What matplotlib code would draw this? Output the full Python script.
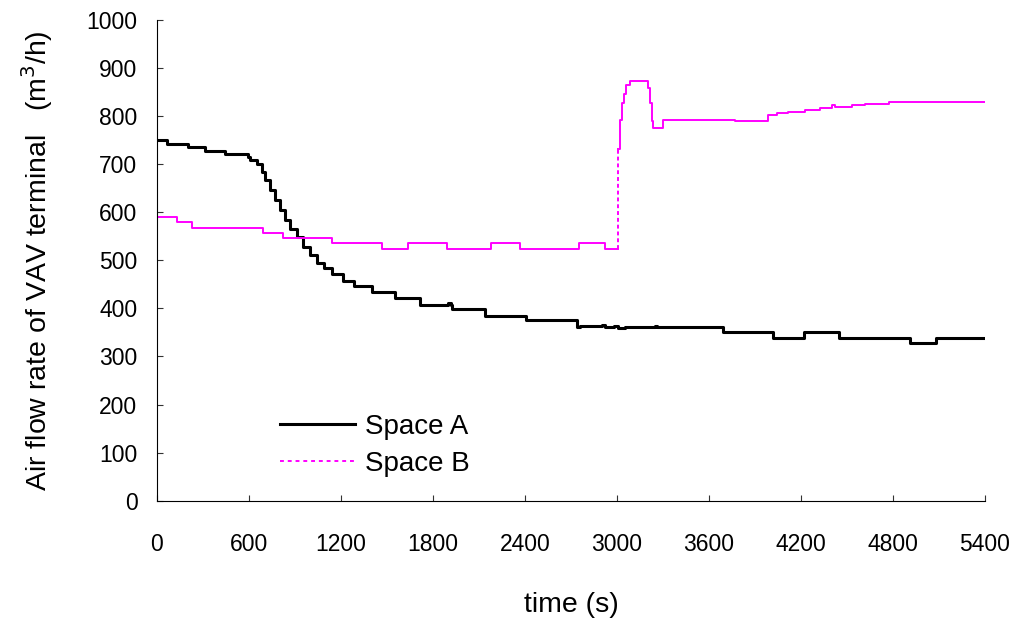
import matplotlib
matplotlib.use('Agg')
import matplotlib.pyplot as plt
from matplotlib.lines import Line2D

plt.rcParams['font.family'] = ['Liberation Sans', 'DejaVu Sans']

# Space A: time (s) -> air flow (m3/h), step values
a_t = [0, 63, 204, 313, 443, 591, 607, 650, 683, 705, 737, 770, 802, 835, 868,
       911, 954, 998, 1042, 1089, 1139, 1211, 1285, 1405, 1552, 1715, 1900, 1915,
       1922, 2140, 2407, 2738, 2760, 2905, 2925, 2980, 3010, 3050, 3250, 3260,
       3694, 4016, 4222, 4451, 4912, 5082, 5400]
a_v = [750, 742, 735, 728, 722, 714, 708, 701, 684, 667, 646, 625, 604, 583, 566,
       549, 528, 510, 494, 483, 472, 458, 446, 434, 422, 408, 412, 408,
       398, 385, 375, 361, 364, 366, 361, 363, 359, 362, 364, 362,
       351, 339, 351, 339, 328, 339, 339]

# Space B
b_t = [0, 128, 226, 694, 824, 1139, 1470, 1635, 1893, 2180, 2371, 2752, 2921,
       3005, 3005, 3020, 3031, 3046, 3057, 3085, 3183, 3205, 3216, 3227, 3238,
       3281, 3303, 3770, 3955, 3988, 4043, 4118, 4227, 4325, 4400, 4420, 4532,
       4619, 4777, 5400]
b_v = [590, 580, 568, 557, 547, 535, 524, 535, 524, 535, 524, 535, 524,
       524, 731, 792, 828, 846, 865, 873, 873, 858, 828, 789, 775,
       775, 792, 790, 790, 802, 807, 809, 812, 817, 822, 819, 824,
       826, 830, 830]
jump = 13  # index where the jump to 731 starts

xticks = [0, 600, 1200, 1800, 2400, 3000, 3600, 4200, 4800, 5400]
yticks = [0, 100, 200, 300, 400, 500, 600, 700, 800, 900, 1000]

fig = plt.figure(figsize=(10.19, 6.22), dpi=100)
ax = fig.add_axes([0.154, 0.195, 0.8125, 0.773])

ax.plot(a_t, a_v, color='black', lw=2.2, drawstyle='steps-post')
ax.plot(b_t[:jump + 1], b_v[:jump + 1], color='#ff00ff', lw=1.4, drawstyle='steps-post')
ax.plot(b_t[jump:jump + 2], b_v[jump:jump + 2], color='#ff00ff', lw=1.4, ls=(0, (2, 1.5)))
ax.plot(b_t[jump + 1:], b_v[jump + 1:], color='#ff00ff', lw=1.4, drawstyle='steps-post')

ax.set_xlim(0, 5400)
ax.set_ylim(0, 1000)
ax.set_xticks(xticks)
ax.set_yticks(yticks)
ax.tick_params(direction='in', length=4, width=0.8, labelsize=16.5, color='#333333')
ax.tick_params(axis='x', pad=23)
ax.tick_params(axis='y', pad=14)
for s in ['top', 'right']:
    ax.spines[s].set_visible(False)

ax.set_xlabel('time (s)', fontsize=20.5, labelpad=26)
ax.set_ylabel('Air flow rate of VAV terminal   (m$^3$/h)', fontsize=20.5, labelpad=23)

handles = [Line2D([], [], color='black', lw=2.2),
           Line2D([], [], color='#ff00ff', lw=1.4, ls=(0, (2, 2)))]
ax.legend(handles, ['Space A', 'Space B'], loc='upper left', bbox_to_anchor=(0.135, 0.204),
          frameon=False, fontsize=20, handlelength=2.7, handletextpad=0.35,
          labelspacing=0.4, borderaxespad=0)

fig.savefig('out.png', dpi=100)
